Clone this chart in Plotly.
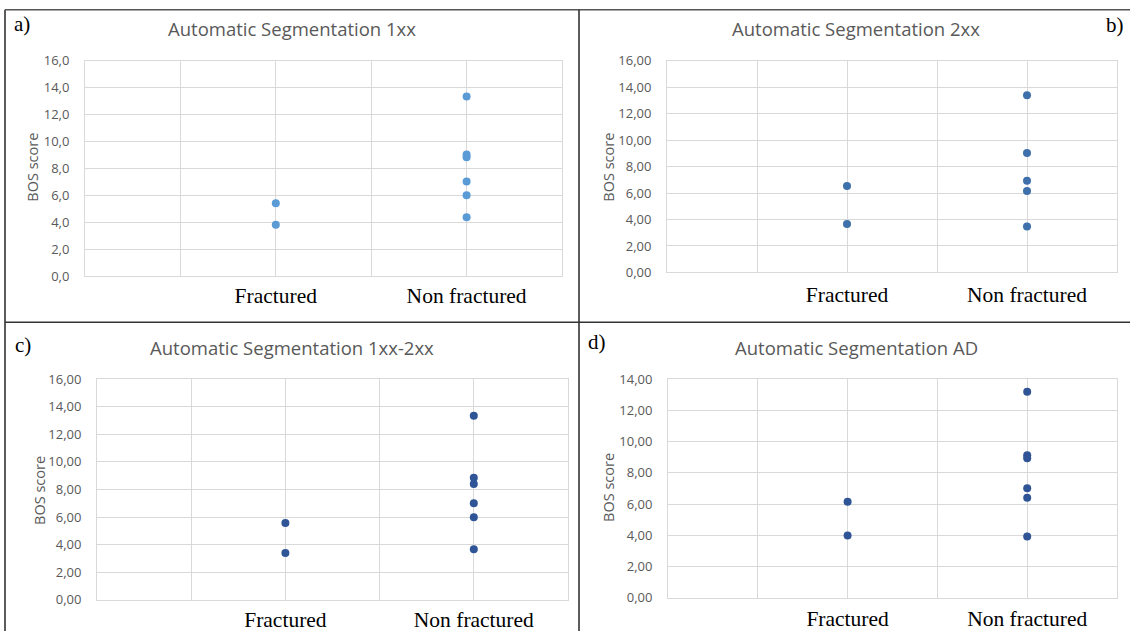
import plotly.graph_objects as go

W, H = 1130, 640

# ---------------- data ----------------
categories = ["Fractured", "Non fractured"]
category_pos = [2, 4]

a_fractured = [5.44, 3.83]
a_nonfractured = [13.35, 9.05, 8.85, 7.05, 6.03, 4.40]

b_fractured = [6.54, 3.66]
b_nonfractured = [13.40, 9.03, 6.94, 6.16, 3.48]

c_fractured = [5.57, 3.39]
c_nonfractured = [13.34, 8.84, 8.40, 7.00, 5.98, 3.66]

d_fractured = [6.14, 3.98]
d_nonfractured = [13.19, 9.12, 8.93, 7.01, 6.41, 3.92]

titles = ["Automatic Segmentation 1xx", "Automatic Segmentation 2xx",
          "Automatic Segmentation 1xx-2xx", "Automatic Segmentation AD"]
panel_letters = ["a)", "b)", "c)", "d)"]
y_max = [16, 16, 16, 14]
y_format = [".1f", ".2f", ".2f", ".2f"]
y_title = "BOS score"

# ---------------- layout geometry (target pixels in the picture) ----------------
panels = [
    dict(l=85, r=562, t=60, b=276, color="#5B9BD5",
         title=(292, 28), ytitle=(33, 167), letter=(22, 23), xlabpad=0,
         fr=a_fractured, nf=a_nonfractured),
    dict(l=667, r=1117, t=60, b=272, color="#3E70AB",
         title=(856, 28), ytitle=(609, 167), letter=(1115, 24), xlabpad=3,
         fr=b_fractured, nf=b_nonfractured),
    dict(l=97, r=568, t=379, b=600, color="#2F5597",
         title=(292, 347), ytitle=(40, 491), letter=(23, 345), xlabpad=0,
         fr=c_fractured, nf=c_nonfractured),
    dict(l=668, r=1117, t=379, b=598, color="#2F5597",
         title=(856, 347), ytitle=(609, 488), letter=(597, 342), xlabpad=1,
         fr=d_fractured, nf=d_nonfractured),
]

# the page is shown with a small top offset and slight vertical compression
Y_OFF, Y_K = 8.0, 0.974

def px(x):
    return x / W

def py(y):
    ys = max((y - Y_OFF) / Y_K, 0.0)
    return 1 - ys / H

fig = go.Figure()
annotations = []
layout = {}

for i, p in enumerate(panels):
    n = i + 1
    xa = "x" if n == 1 else f"x{n}"
    ya = "y" if n == 1 else f"y{n}"
    xkey = "xaxis" if n == 1 else f"xaxis{n}"
    ykey = "yaxis" if n == 1 else f"yaxis{n}"

    xs = [category_pos[0]] * len(p["fr"]) + [category_pos[1]] * len(p["nf"])
    ys = list(p["fr"]) + list(p["nf"])
    fig.add_trace(go.Scatter(
        x=xs, y=ys, mode="markers", xaxis=xa, yaxis=ya,
        marker=dict(size=8, color=p["color"]), showlegend=False,
        hoverinfo="y"))

    ticktext = ["", "", categories[0], "", categories[1], ""]
    layout[xkey] = dict(
        domain=[px(p["l"]), px(p["r"])], anchor=ya,
        range=[0, 5], tickvals=[0, 1, 2, 3, 4, 5], ticktext=ticktext,
        showgrid=True, gridcolor="#D9D9D9", gridwidth=1,
        zeroline=False, showline=True, linecolor="#D9D9D9", mirror=True,
        ticks="outside" if p["xlabpad"] > 0 else "", ticklen=max(p["xlabpad"], 1),
        tickcolor="rgba(0,0,0,0)",
        tickfont=dict(family="Liberation Serif", size=21.5, color="#000000"),
        fixedrange=True)
    layout[ykey] = dict(
        domain=[py(p["b"]), py(p["t"])], anchor=xa,
        range=[0, y_max[i]], dtick=2, tickformat=y_format[i],
        showgrid=True, gridcolor="#D9D9D9", gridwidth=1,
        zeroline=False, showline=True, linecolor="#D9D9D9", mirror=True,
        ticks="outside", ticklen=12, tickcolor="rgba(0,0,0,0)",
        tickfont=dict(family="Open Sans", size=13, color="#595959"),
        fixedrange=True)

    annotations.append(dict(
        x=px(p["title"][0]), y=py(p["title"][1]), xref="paper", yref="paper",
        text=titles[i], showarrow=False, xanchor="center", yanchor="middle",
        font=dict(family="Open Sans", size=18.5, color="#595959")))
    annotations.append(dict(
        x=px(p["ytitle"][0]), y=py(p["ytitle"][1]), xref="paper", yref="paper",
        text=y_title, showarrow=False, textangle=-90,
        xanchor="center", yanchor="middle",
        font=dict(family="Open Sans", size=14.5, color="#595959")))
    annotations.append(dict(
        x=px(p["letter"][0]), y=py(p["letter"][1]), xref="paper", yref="paper",
        text=panel_letters[i], showarrow=False, xanchor="center", yanchor="middle",
        font=dict(family="Liberation Serif", size=21, color="#000000")))

# panel frame lines
line_style = dict(color="#333333", width=1.6)
top_y = 1 - 0.8 / H
shapes = [
    dict(type="line", xref="paper", yref="paper", x0=px(5), x1=px(5), y0=0, y1=top_y, line=line_style),
    dict(type="line", xref="paper", yref="paper", x0=px(5), x1=1, y0=top_y, y1=top_y, line=dict(color="#555555", width=1.6)),
    dict(type="line", xref="paper", yref="paper", x0=px(579), x1=px(579), y0=0, y1=top_y, line=line_style),
    dict(type="line", xref="paper", yref="paper", x0=px(5), x1=1, y0=py(322), y1=py(322), line=line_style),
]

fig.update_layout(
    width=W, height=H, margin=dict(l=0, r=0, t=0, b=0),
    paper_bgcolor="white", plot_bgcolor="white",
    separators=",.", showlegend=False,
    annotations=annotations, shapes=shapes, **layout)

fig.write_html("out.html")
